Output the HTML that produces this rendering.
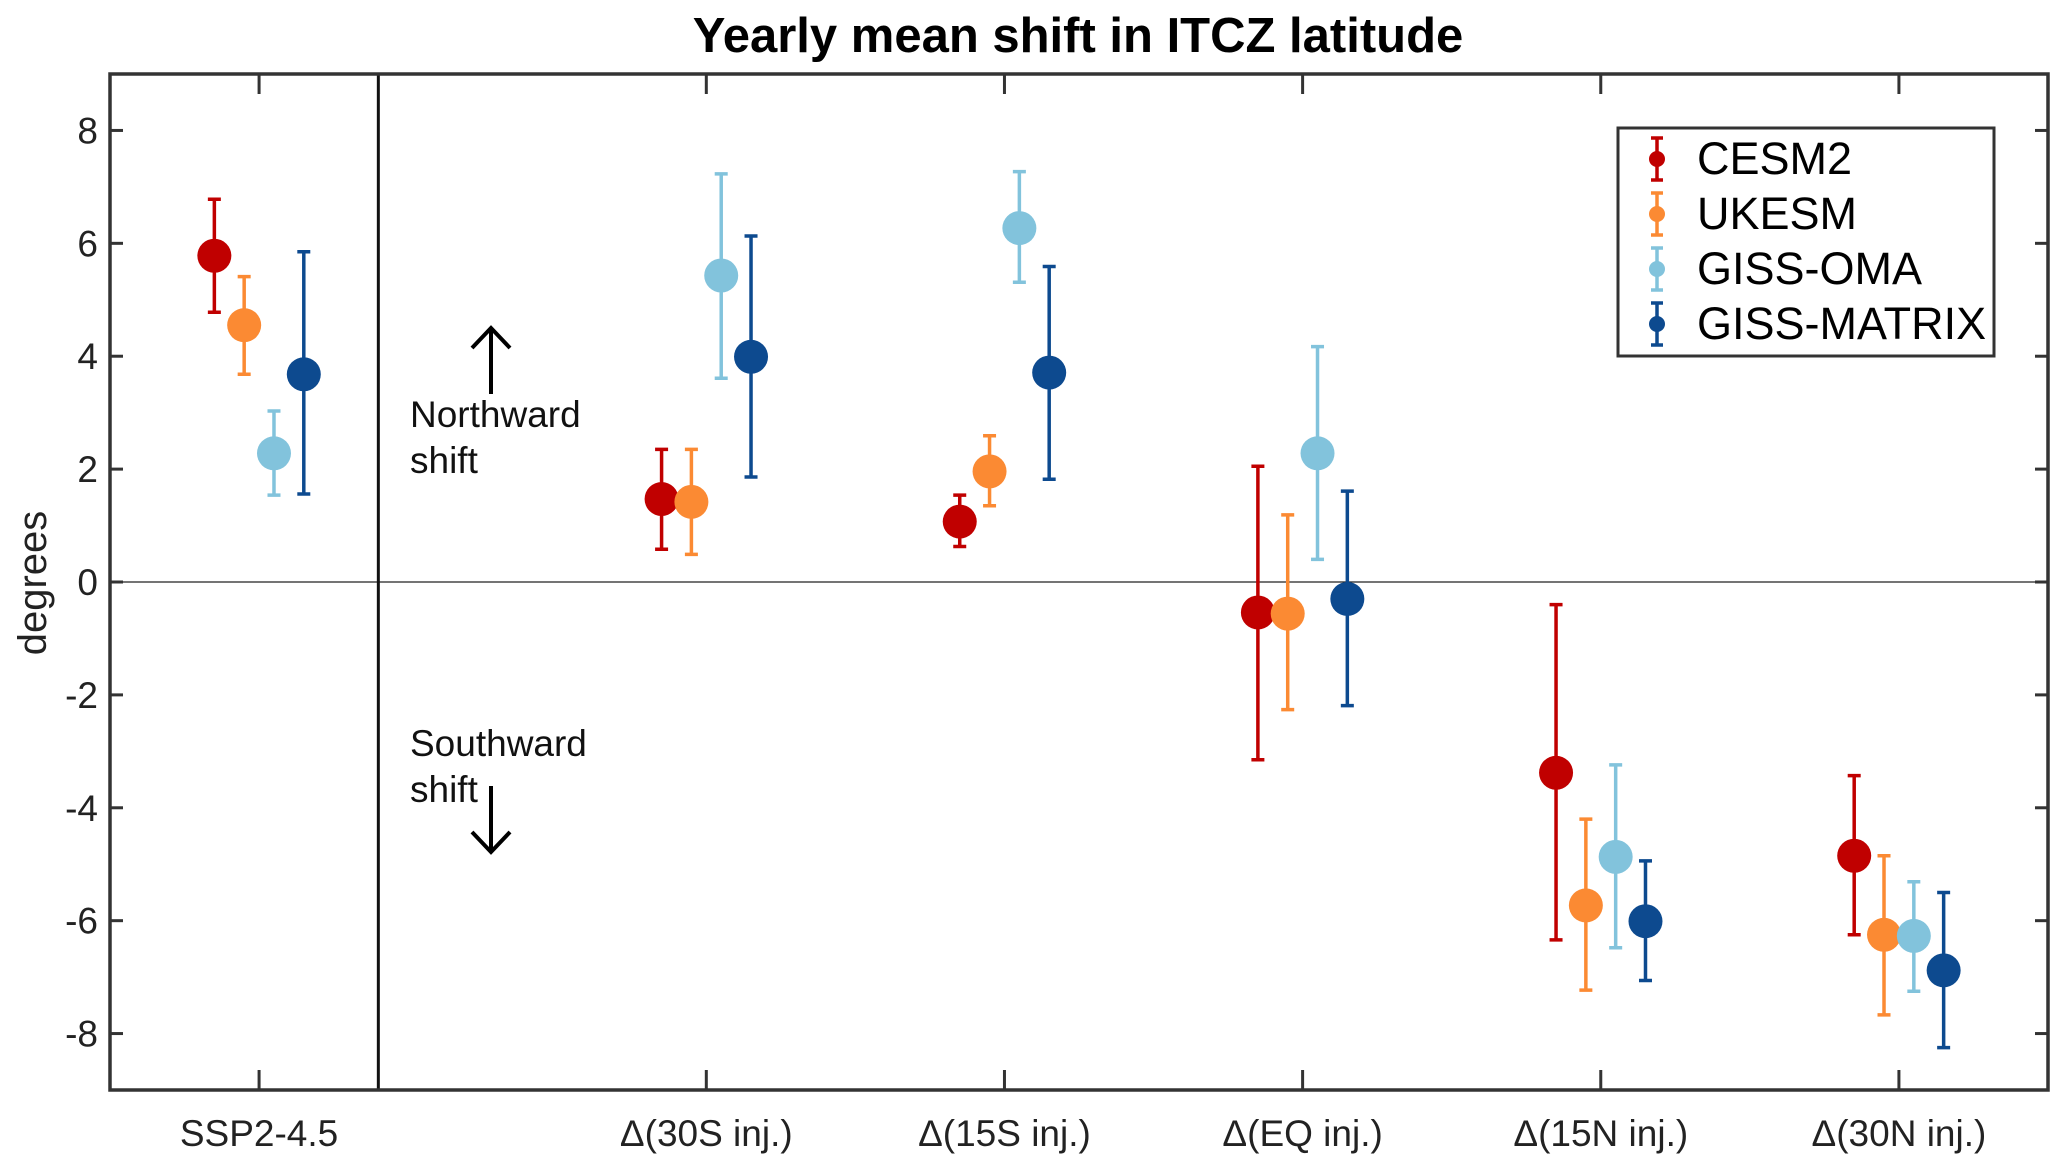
<!DOCTYPE html>
<html><head><meta charset="utf-8"><style>
html,body{margin:0;padding:0;background:#fff;}
svg{display:block;font-family:"Liberation Sans",Arial,sans-serif;}
</style></head><body>
<svg id="chart" width="2067" height="1166" viewBox="0 0 2067 1166">
<text x="1078" y="52" font-size="49" font-weight="bold" text-anchor="middle">Yearly mean shift in ITCZ latitude</text>
<text transform="translate(46,583) rotate(-90)" font-size="40" text-anchor="middle" fill="#222">degrees</text>
<g id="plot"></g>
</svg>
<script>
const categories=["SSP2-4.5","Δ(30S inj.)","Δ(15S inj.)","Δ(EQ inj.)","Δ(15N inj.)","Δ(30N inj.)"];
const catPos=[1,2.5,3.5,4.5,5.5,6.5];
const seriesNames=["CESM2","UKESM","GISS-OMA","GISS-MATRIX"];
const seriesColors=["#c00000","#fb8a33","#82c3dc","#0d4a8f"];
const cesmMean=[5.78,1.47,1.07,-0.54,-3.38,-4.85];
const cesmHi=[6.78,2.35,1.54,2.05,-0.40,-3.43];
const cesmLo=[4.78,0.58,0.63,-3.15,-6.34,-6.25];
const ukesmMean=[4.55,1.42,1.96,-0.56,-5.73,-6.25];
const ukesmHi=[5.41,2.35,2.59,1.19,-4.20,-4.85];
const ukesmLo=[3.68,0.49,1.35,-2.26,-7.23,-7.67];
const omaMean=[2.28,5.43,6.27,2.28,-4.87,-6.27];
const omaHi=[3.03,7.23,7.27,4.17,-3.24,-5.31];
const omaLo=[1.54,3.61,5.31,0.40,-6.48,-7.25];
const matrixMean=[3.68,3.99,3.71,-0.30,-6.01,-6.88];
const matrixHi=[5.85,6.13,5.59,1.61,-4.94,-5.50];
const matrixLo=[1.56,1.86,1.82,-2.19,-7.06,-8.25];
const yTicks=[-8,-6,-4,-2,0,2,4,6,8];
const seriesOffsets=[-1.5,-0.5,0.5,1.5];

const L=110,R=2048,T=74,B=1090;
const xMin=0.5,xMax=7,yMin=-9,yMax=9;
const xs=v=>L+(v-xMin)/(xMax-xMin)*(R-L);
const ys=v=>B-(v-yMin)/(yMax-yMin)*(B-T);
const NS="http://www.w3.org/2000/svg";
const g=document.getElementById('plot');
function mk(tag,attrs,parent){const e=document.createElementNS(NS,tag);for(const k in attrs)e.setAttribute(k,attrs[k]);(parent||g).appendChild(e);return e;}

let e=mk('line',{x1:L,x2:R,y1:ys(0),y2:ys(0),stroke:'#222','stroke-width':1.3});


e=mk('line',{x1:xs(1.4),x2:xs(1.4),y1:T,y2:B,stroke:'#111','stroke-width':3});



yTicks.forEach(t=>{
  const y=ys(t);
  mk('line',{x1:L,x2:L+13,y1:y,y2:y,stroke:'#333','stroke-width':3});
  mk('line',{x1:R-13,x2:R,y1:y,y2:y,stroke:'#333','stroke-width':3});
  const tx=mk('text',{x:98,y:y+13,'font-size':37,'text-anchor':'end',fill:'#222'});
  tx.textContent=String(t);
  
  
});
categories.forEach((c,i)=>{
  const x=xs(catPos[i]);
  mk('line',{x1:x,x2:x,y1:B,y2:B-20,stroke:'#333','stroke-width':3});
  mk('line',{x1:x,x2:x,y1:T,y2:T+20,stroke:'#333','stroke-width':3});
  const tx=mk('text',{x:x,y:1146,'font-size':37,'text-anchor':'middle',fill:'#222'});
  tx.textContent=c;
  
  
});

const means=[cesmMean,ukesmMean,omaMean,matrixMean];
const his=[cesmHi,ukesmHi,omaHi,matrixHi];
const los=[cesmLo,ukesmLo,omaLo,matrixLo];
const unit=(R-L)/(xMax-xMin);
means.forEach((m,s)=>{
  const col=seriesColors[s];
  m.forEach((v,i)=>{
    const x=xs(catPos[i])+seriesOffsets[s]*unit*0.1;
    const y1=ys(his[s][i]),y2=ys(los[s][i]);
    const bar=mk('path',{d:`M${x},${y1}V${y2}M${x-6.5},${y1}H${x+6.5}M${x-6.5},${y2}H${x+6.5}`,stroke:col,'stroke-width':3.5,fill:'none'});
    
    
    const pt=mk('circle',{cx:x,cy:ys(v),r:17,fill:col});
    
    
  });
});

e=mk('rect',{x:L,y:T,width:R-L,height:B-T,fill:'none',stroke:'#333','stroke-width':3.5});



function txt(x,y,s,name){const t=mk('text',{x:x,y:y,'font-size':37,fill:'#111'});t.textContent=s;}
txt(410,427,'Northward','northward-label');
txt(410,473,'shift','northward-shift-label');
txt(410,756,'Southward','southward-label');
txt(410,802,'shift','southward-shift-label');
e=mk('path',{d:'M491,394V330M472,348L491,328L510,348',stroke:'#000','stroke-width':4,fill:'none'});


e=mk('path',{d:'M491,786V850M472,832L491,852L510,832',stroke:'#000','stroke-width':4,fill:'none'});



const lg=mk('g',{});


mk('rect',{x:1618,y:128,width:376,height:228,fill:'#fff',stroke:'#333','stroke-width':3},lg);
seriesNames.forEach((n,s)=>{
  const cy=159+s*55;
  const ent=mk('g',{},lg);
  
  
  mk('path',{d:`M1657,${cy-21}V${cy+21}M1651,${cy-21}H1663M1651,${cy+21}H1663`,stroke:seriesColors[s],'stroke-width':3.5,fill:'none'},ent);
  mk('circle',{cx:1657,cy:cy,r:8,fill:seriesColors[s]},ent);
  const t=mk('text',{x:1697,y:cy+15,'font-size':45,fill:'#000'},ent);
  t.textContent=n;
});
</script>
</body></html>
